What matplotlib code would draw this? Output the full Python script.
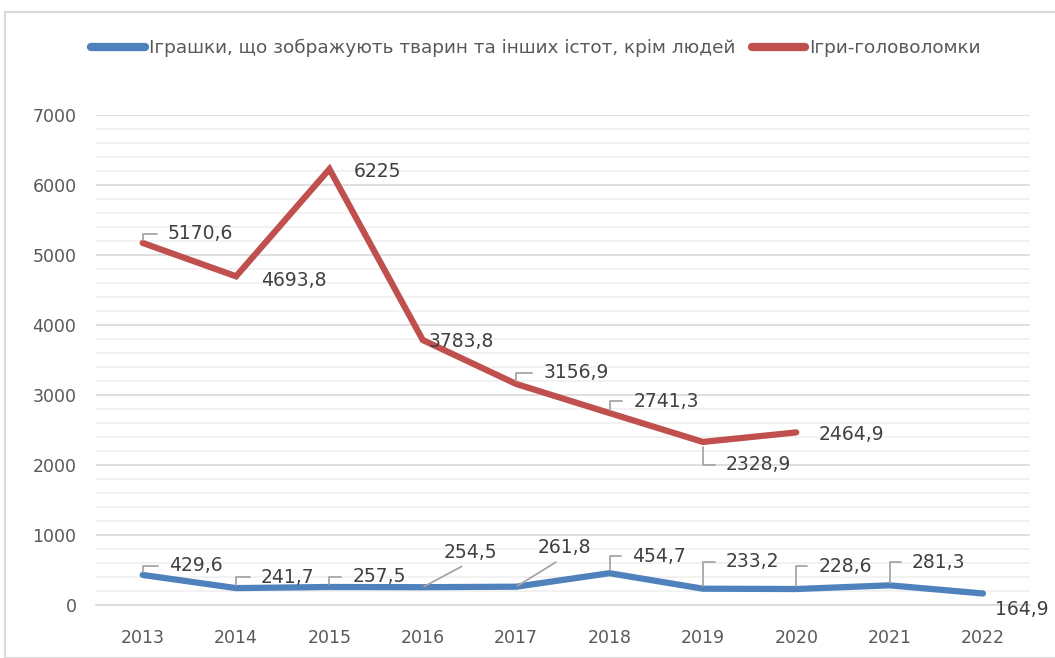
import matplotlib.pyplot as plt
from matplotlib.patches import Rectangle
from matplotlib.ticker import MultipleLocator

years = ["2013", "2014", "2015", "2016", "2017", "2018", "2019", "2020", "2021", "2022"]
toys = [429.6, 241.7, 257.5, 254.5, 261.8, 454.7, 233.2, 228.6, 281.3, 164.9]
puzzles = [5170.6, 4693.8, 6225, 3783.8, 3156.9, 2741.3, 2328.9, 2464.9]
toys_name = "Іграшки, що зображують тварин та інших істот, крім людей"
puzzles_name = "Ігри-головоломки"

blue = "#4F81BD"
red = "#C0504D"

# label offsets in pixels (dx, dy) and leader style
toys_lbl = [(26, 9, "angle"), (25, 11, "angle"), (23, 10, "angle"), (21, 35, "diag"),
            (21, 39, "diag"), (23, 17, "angle"), (23, 27, "angle"), (22, 23, "angle"),
            (22, 23, "angle"), (12, -16, None)]
puzzles_lbl = [(25, 9, "angle"), (25, -4, None), (24, -2, None), (6, -1, None),
               (27, 11, "angle"), (24, 12, "angle"), (23, -23, "angle_down"), (22, -2, None)]


def fmt(v):
    s = f"{v:g}"
    return s.replace(".", ",")


def label_points(ax, values, offsets):
    for i, (v, (dx, dy, style)) in enumerate(zip(values, offsets)):
        kw = dict(xy=(i, v), xytext=(dx, dy), textcoords="offset pixels",
                  ha="left", va="center", fontsize=13.5, color="#404040")
        if style == "angle":
            kw["arrowprops"] = dict(arrowstyle="-", color="#A6A6A6", lw=1.3,
                                    connectionstyle="angle,angleA=0,angleB=90,rad=0",
                                    relpos=(0, 0.5), shrinkA=6, shrinkB=2)
        elif style == "angle_down":
            kw["arrowprops"] = dict(arrowstyle="-", color="#A6A6A6", lw=1.3,
                                    connectionstyle="angle,angleA=0,angleB=90,rad=0",
                                    relpos=(0, 0.5), shrinkA=6, shrinkB=4)
        elif style == "diag":
            kw["arrowprops"] = dict(arrowstyle="-", color="#A6A6A6", lw=1.3,
                                    relpos=(0.5, 0), shrinkA=3, shrinkB=1)
        ax.annotate(fmt(v), **kw)


fig = plt.figure(figsize=(10.55, 6.58), dpi=100)
ax = fig.add_axes([0.091, 0.0805, 0.885, 0.745])

x_toys = list(range(len(toys)))
x_puz = list(range(len(puzzles)))
ax.plot(x_toys, toys, color=blue, lw=4.5, solid_capstyle="round", solid_joinstyle="miter",
        label=toys_name, zorder=3)
ax.plot(x_puz, puzzles, color=red, lw=4.5, solid_capstyle="round", solid_joinstyle="miter",
        label=puzzles_name, zorder=3)

label_points(ax, toys, toys_lbl)
label_points(ax, puzzles, puzzles_lbl)

ax.set_xlim(-0.5, len(years) - 0.5)
ax.set_ylim(0, 7000)
ax.set_xticks(x_toys)
ax.set_xticklabels(years)
ax.yaxis.set_major_locator(MultipleLocator(1000))
ax.yaxis.set_minor_locator(MultipleLocator(200))
ax.grid(which="major", axis="y", color="#D9D9D9", lw=1.2)
ax.grid(which="minor", axis="y", color="#F0F0F0", lw=1.2)
ax.set_axisbelow(True)
ax.tick_params(axis="both", which="both", length=0, labelsize=12.5, colors="#595959")
ax.tick_params(axis="x", pad=17)
ax.tick_params(axis="y", pad=14)
for s in ["top", "right", "left"]:
    ax.spines[s].set_visible(False)
ax.spines["bottom"].set_color("#D9D9D9")
ax.spines["bottom"].set_linewidth(1.2)

leg = fig.legend(loc="center", bbox_to_anchor=(0.508, 0.927), ncol=2, frameon=False,
                 fontsize=13.3, handlelength=2.9, handletextpad=0.2, columnspacing=0.9)
for t in leg.get_texts():
    t.set_color("#595959")
for h in leg.legend_handles:
    h.set_linewidth(6)

fig.patches.append(Rectangle((5 / 1055, 0), 1.1, 1 - 12 / 658, transform=fig.transFigure,
                             fill=False, edgecolor="#D9D9D9", lw=1.5))

fig.savefig("out.png", dpi=100)
